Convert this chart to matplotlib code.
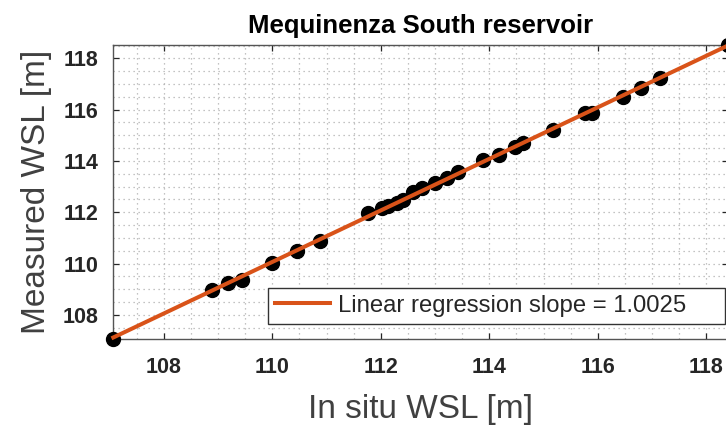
import numpy as np
import matplotlib
matplotlib.use("Agg")
import matplotlib.pyplot as plt
from matplotlib.ticker import MultipleLocator

# Data
in_situ = [107.07, 108.88, 109.19, 109.44, 109.99, 110.45, 110.88, 111.77, 112.02,
           112.13, 112.30, 112.41, 112.60, 112.76, 113.00, 113.22, 113.43, 113.89,
           114.17, 114.48, 114.63, 115.18, 115.77, 115.89, 116.47, 116.80, 117.15,
           118.40]
measured = [107.05, 108.97, 109.23, 109.36, 110.01, 110.50, 110.89, 111.96, 112.16,
            112.25, 112.35, 112.48, 112.80, 112.94, 113.13, 113.33, 113.58, 114.04,
            114.23, 114.56, 114.69, 115.21, 115.87, 115.87, 116.50, 116.83, 117.22,
            118.52]
x_ticks = [108, 110, 112, 114, 116, 118]
y_ticks = [108, 110, 112, 114, 116, 118]
title = "Mequinenza South reservoir"
x_label = "In situ WSL [m]"
y_label = "Measured WSL [m]"
legend_label = "Linear regression slope = 1.0025"

plt.rcParams['font.family'] = ['Liberation Sans', 'DejaVu Sans']

W, H = 726, 426
fig = plt.figure(figsize=(W / 100, H / 100), dpi=100)
left, right, top, bottom = 113.3, 728.0, 45.0, 339.3
ax = fig.add_axes([left / W, 1 - bottom / H, (right - left) / W, (bottom - top) / H])

x = np.array(in_situ)
y = np.array(measured)
ax.plot(x, y, 'o', color='black', markersize=10, zorder=3, clip_on=False)

coef = np.polyfit(x, y, 1)
xl = np.array([x.min(), x.max()])
orange = '#D95319'
ax.plot(xl, np.polyval(coef, xl), '-', color=orange, linewidth=2.9, zorder=4,
        label=legend_label, clip_on=False)

ax.set_xlim(x.min(), x.max())
ax.set_ylim(y.min(), y.max())
ax.set_xticks(x_ticks)
ax.set_yticks(y_ticks)
ax.xaxis.set_minor_locator(MultipleLocator(0.5))
ax.yaxis.set_minor_locator(MultipleLocator(0.5))

grid_kw = dict(color='#b0b0b0', linestyle=(0, (1, 3)), linewidth=0.9)
ax.grid(True, which='major', **grid_kw)
ax.grid(True, which='minor', **grid_kw)
ax.set_axisbelow(True)

spine_c = '#262626'
for s in ax.spines.values():
    s.set_color('#555555')
    s.set_linewidth(1.0)

ax.tick_params(which='major', direction='in', length=4, width=0.9, color=spine_c,
               top=True, right=True, labelsize=15.5, labelcolor='#262626', pad=13)
ax.tick_params(axis='y', pad=11)
ax.tick_params(which='minor', length=0, top=True, right=True)
for lab in ax.get_xticklabels() + ax.get_yticklabels():
    lab.set_fontweight('bold')

ax.set_title(title, fontsize=18.5, fontweight='bold', color='black', pad=9)
ax.set_xlabel(x_label, fontsize=24, color='#404040', labelpad=11)
ax.set_ylabel(y_label, fontsize=24, color='#404040', labelpad=7)

lx0, ly0, lx1, ly1 = 268.3, 284.0, 725.0, 324.0
leg = ax.legend(loc='lower left', mode='expand',
                bbox_to_anchor=(lx0 / W, 1 - ly1 / H, (lx1 - lx0) / W, (ly1 - ly0) / H),
                bbox_transform=fig.transFigure, borderaxespad=0,
                fontsize=17.2, handlelength=2.3, handletextpad=0.3, borderpad=0.3,
                fancybox=False, framealpha=1, edgecolor='#333333')
leg.get_frame().set_linewidth(1.0)
for t in leg.get_texts():
    t.set_color('#262626')

fig.savefig('out.png', dpi=100)
